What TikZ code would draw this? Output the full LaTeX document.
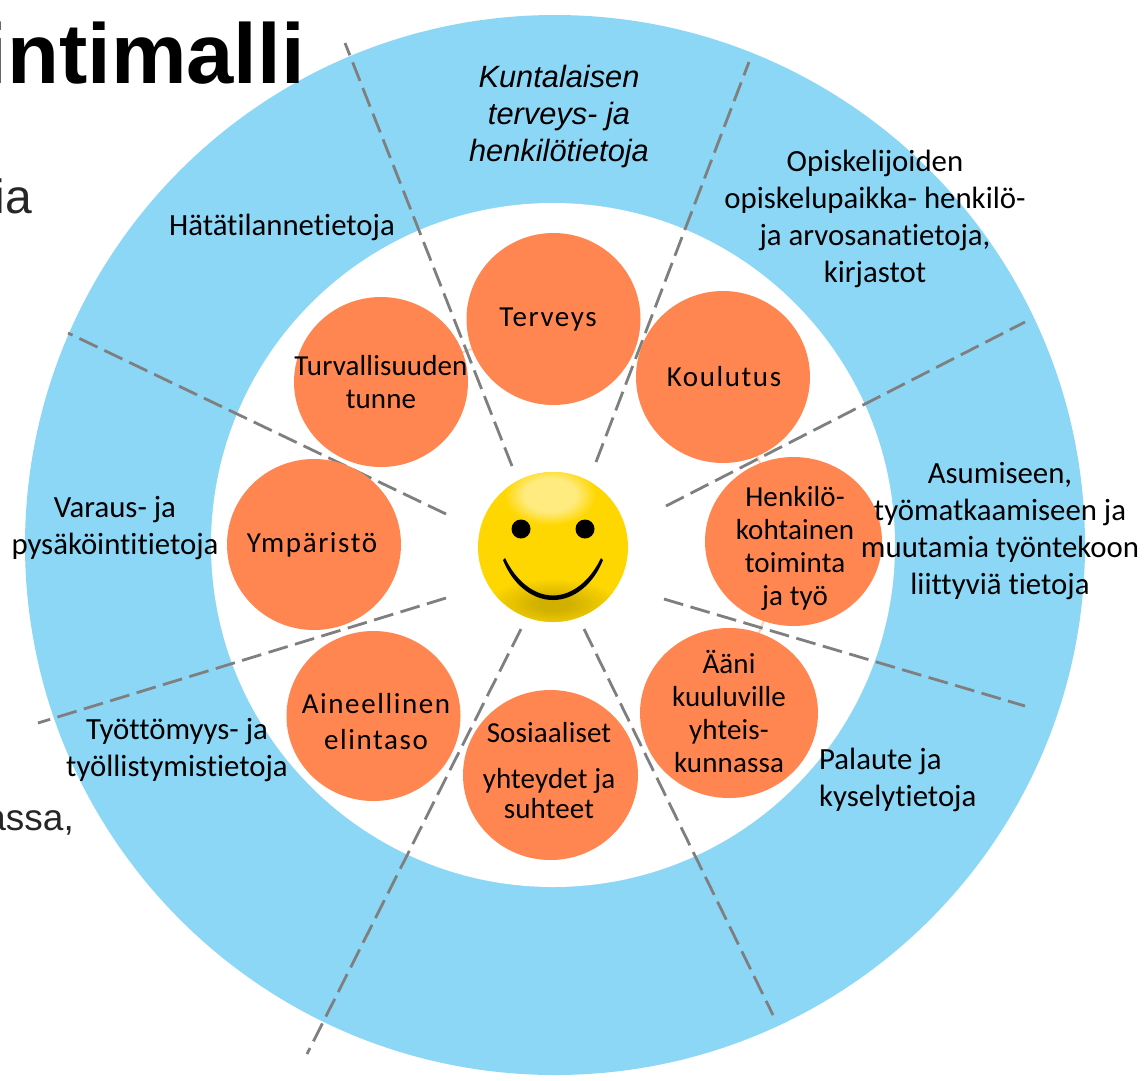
\documentclass[tikz,border=0pt]{standalone}
\usepackage{fontspec}
\setmainfont[Ligatures=NoCommon]{Carlito}
\newfontfamily\arialfont{Liberation Sans}
\definecolor{ringblue}{HTML}{8CD7F6}
\definecolor{goalorange}{HTML}{FF8650}
\definecolor{linkpale}{HTML}{FFD0BA}
\definecolor{cutgrey}{HTML}{7F7F7F}
\definecolor{ballgold}{HTML}{FFD700}
\newcommand{\goalfont}{\fontsize{29}{33}\selectfont}
\newcommand{\goalwide}{\goalfont\addfontfeature{LetterSpace=5.5}}
\newcommand{\goalnarrow}{\goalfont\addfontfeature{LetterSpace=0.5}}
\newcommand{\datafont}{\fontsize{30.8}{37}\selectfont}
\pgfdeclareradialshading{ballglow}{\pgfpointorigin}{rgb(0bp)=(1,0.92,0.5); rgb(14bp)=(1,0.92,0.5); rgb(25bp)=(1,0.843,0); rgb(50bp)=(1,0.843,0)}
\pgfdeclareradialshading{balldark}{\pgfpointorigin}{rgb(0bp)=(0.82,0.69,0); rgb(6bp)=(0.82,0.69,0); rgb(25bp)=(1,0.843,0); rgb(50bp)=(1,0.843,0)}
\tikzset{
    node style goal/.style={fill=goalorange},
    node style label/.style={align=center,inner sep=0pt,font=\goalnarrow},
    node style data/.style={align=center,inner sep=0pt,font=\datafont},
    node style back/.style={inner sep=0pt,font=\arialfont\fontsize{48}{48}\selectfont,text=black!85},
    line style cut/.style={draw=cutgrey,line width=2.8pt,dash pattern=on 20pt off 7.6pt},
    line style link/.style={draw=linkpale,line width=2pt},
}

\begin{document}
\begin{tikzpicture}[x=1pt,y=-1pt]
\useasboundingbox (0,0) rectangle (1145,1080);
\clip (0,0) rectangle (1145,1080);
% the rings
\fill [ringblue] (555,545) circle [radius=530];
\fill [white] (553,545) circle [radius=342];
% the slide behind
\node (title) [inner sep=0pt,anchor=base east,font=\arialfont\bfseries\fontsize{85}{85}\selectfont] at (305,83) {intimalli};
\node (slideia) [node style back,anchor=base east] at (32,213) {ia};
\node (slideassa) [node style back,anchor=base east,font=\arialfont\fontsize{37}{37}\selectfont] at (74,830) {assa,};
% the faint links between goals
\coordinate (c terveys) at (553.5,319);
\coordinate (c turva) at (381,382);
\coordinate (c koulutus) at (723,377);
\coordinate (c henkilo) at (793.5,541.5);
\coordinate (c aani) at (729,713);
\draw [line style link] (c turva) -- (c terveys);
\draw [line style link] (c koulutus) -- (c henkilo);
\draw [line style link] (c henkilo) -- (c aani);
% the cuts
\coordinate (in1) at (512,466);  \coordinate (out1) at (345,43);
\coordinate (in2) at (596,462);  \coordinate (out2) at (749,62);
\coordinate (in3) at (666,506);  \coordinate (out3) at (1025,322);
\coordinate (in4) at (664,599);  \coordinate (out4) at (1025,706);
\coordinate (in5) at (584,629);  \coordinate (out5) at (773,1015);
\coordinate (in6) at (521,629);  \coordinate (out6) at (307,1054);
\coordinate (in7) at (446,598);  \coordinate (out7) at (38,723);
\coordinate (in8) at (446,514);  \coordinate (out8) at (68,333);
\foreach \n in {1,...,8}
    \draw [line style cut] (in\n) -- (out\n);
% the goals
\fill [node style goal] (c terveys) ellipse [x radius=87,y radius=86];
\fill [node style goal] (c koulutus) ellipse [x radius=87,y radius=86];
\fill [node style goal] (c turva) ellipse [x radius=87,y radius=85];
\fill [node style goal] (c henkilo) ellipse [x radius=88.5,y radius=84.5];
\fill [node style goal] (314,544.5) ellipse [x radius=87,y radius=85.5];
\fill [node style goal] (373.5,716) ellipse [x radius=87,y radius=85];
\fill [node style goal] (550.5,775) ellipse [x radius=87.5,y radius=85];
\fill [node style goal] (c aani) ellipse [x radius=89,y radius=85];
\node (terveys) [node style label,font=\goalwide] at (548,320) {Terveys};
\node (koulutus) [node style label,font=\goalwide] at (724,377) {Koulutus};
\node (turva) [node style label] at (381,382) {Turvallisuuden\\tunne};
\node (henkilo) [node style label] at (795,548) {Henkilö-\\kohtainen\\toiminta\\ja työ};
\node (ymparisto) [node style label,font=\goalwide] at (312,545) {Ympäristö};
\node (aineellinen) [node style label,font=\goalwide] at (376,722) {Aineellinen\\[3pt]elintaso};
\node (sosiaaliset) [node style label] at (549,771) {Sosiaaliset\\[13pt]yhteydet ja\\[-3pt]suhteet};
\node (aani) [node style label] at (729,711) {Ääni\\kuuluville\\yhteis-\\kunnassa};
% the data
\node (kuntalaisen) [node style data,font=\arialfont\itshape\datafont] at (559,117) {Kuntalaisen\\terveys- ja\\henkilötietoja};
\node (opiskelu) [node style data] at (875,219) {Opiskelijoiden\\opiskelupaikka- henkilö-\\ja arvosanatietoja,\\kirjastot};
\node (hata) [node style data] at (282,227) {Hätätilannetietoja};
\node (asuminen) [node style data] at (1000,531) {Asumiseen,\\työmatkaamiseen ja\\muutamia työntekoon\\liittyviä tietoja};
\node (palaute) [node style data,align=left,anchor=west] at (819,780) {Palaute ja\\kyselytietoja};
\node (tyottomyys) [node style data] at (177,750) {Työttömyys- ja\\työllistymistietoja};
\node (varaus) [node style data] at (115,528) {Varaus- ja\\pysäköintitietoja};
% the smiley
\fill [ballgold] (553,547) circle [radius=75];
\begin{scope}
    \clip (553,547) circle [radius=75];
    \shade [shading=balldark] (553,604) ellipse [x radius=68,y radius=26];
    \shade [shading=ballglow] (550,495) ellipse [x radius=46,y radius=30];
\end{scope}
\fill (521,529) circle [radius=9.5];
\fill (585,529) circle [radius=9.5];
\fill (503,560) .. controls (512,583) and (531,600) .. (553,600) .. controls (575,600) and (594,583) .. (603,560) -- (601,558) .. controls (590,581) and (572,595.5) .. (553,595.5) .. controls (534,595.5) and (516,581) .. (505,558) -- cycle;
\end{tikzpicture}
\end{document}
